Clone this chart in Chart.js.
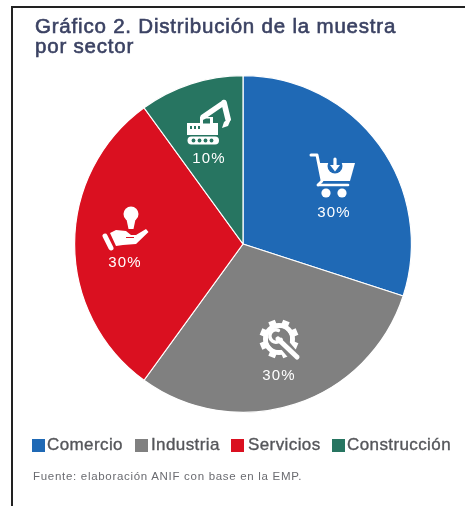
<!DOCTYPE html>
<html><head><meta charset="utf-8">
<style>
html,body{margin:0;padding:0;background:#fff;width:465px;height:506px;overflow:hidden}
#wrap{position:relative;width:465px;height:506px;filter:blur(.7px)}
#frame{position:absolute;left:11px;top:6px;width:470px;height:530px;border:2px solid #222;box-sizing:border-box}
canvas{position:absolute;left:0;top:0}
#title{position:absolute;left:35px;top:16px;font:400 20.5px/20px "Liberation Sans",Arial,sans-serif;color:#3b4263;letter-spacing:.8px;white-space:nowrap;-webkit-text-stroke:.6px #3b4263}
#legend{position:absolute;left:0;top:436px;width:465px;height:18px;font:400 17px/18px "Liberation Sans",Arial,sans-serif;color:#55565a;letter-spacing:.4px}
#legend span{position:absolute;top:0;white-space:nowrap;-webkit-text-stroke:.35px #55565a}
#legend i{position:absolute;top:3px;width:13px;height:13px}
#source{position:absolute;left:33px;top:470px;font:400 11.5px/13px "Liberation Sans",Arial,sans-serif;color:#6a6b70;white-space:nowrap;letter-spacing:.7px}
</style></head><body>
<div id="wrap">
<div id="frame"></div>
<canvas id="c" width="465" height="506"></canvas>
<div id="title">Gráfico 2. Distribución de la muestra<br>por sector</div>
<div id="legend"></div>
<div id="source">Fuente: elaboración ANIF con base en la EMP.</div>
</div>
<script src="https://cdn.jsdelivr.net/npm/chart.js@4"></script>
<script>
const categories = ["Comercio","Industria","Servicios","Construcción"];
const shares = [30,30,30,10];
const sliceColors = ["#1f69b5","#808080","#da1020","#277561"];
const labelOffsets = [[91,-31],[36,132],[-118,19],[-34,-85]];
const iconOffsets = [[67,-91],[16,76],[-140,-39],[-56,-144]];
const legendBoxX = [32,135,231,332];
const legendTextX = [47,151,248,347];

const WHITE="#fff";
function line(c,pts,w){c.lineWidth=w;c.beginPath();pts.forEach((p,i)=>i?c.lineTo(p[0],p[1]):c.moveTo(p[0],p[1]));c.stroke();}
function poly(c,pts){c.beginPath();pts.forEach((p,i)=>i?c.lineTo(p[0],p[1]):c.moveTo(p[0],p[1]));c.closePath();c.fill();}
function disc(c,x,y,r){c.beginPath();c.arc(x,y,r,0,Math.PI*2);c.fill();}
const icons=[
 function cart(c,bg){
  c.lineCap="round";c.lineJoin="round";
  line(c,[[1,2],[7,2],[12,27]],3);
  poly(c,[[9,10],[45,10],[40,28],[12,28]]);
  c.fillStyle=bg;disc(c,25,13,7.5);c.fillRect(19.5,6,11,6);c.fillStyle=WHITE;
  line(c,[[25,6],[25,14]],3.2);
  poly(c,[[20,12],[30,12],[25,18.5]]);
  line(c,[[8,32],[38,32]],2.6);
  line(c,[[8,32],[12,28]],2.6);
  disc(c,16,40,4.6);disc(c,32,40,4.6);
 },
 function gear(c,bg){
  const cx=20,cy=19;
  c.lineCap="butt";
  for(let i=0;i<8;i++){const a=i*Math.PI/4+Math.PI/8;
   line(c,[[cx+Math.cos(a)*12,cy+Math.sin(a)*12],[cx+Math.cos(a)*19.5,cy+Math.sin(a)*19.5]],7);}
  c.lineWidth=5;c.strokeStyle=WHITE;c.beginPath();c.arc(cx,cy,13.5,0,Math.PI*2);c.stroke();
  c.fillStyle=bg;disc(c,cx,cy,11);
  c.strokeStyle=bg;line(c,[[cx+4,cy+4],[35,36]],11);
  c.strokeStyle=WHITE;c.fillStyle=WHITE;
  c.lineCap="round";
  line(c,[[19,19],[38,37]],5);
  c.lineWidth=3.6;c.beginPath();c.arc(17,16,6.2,0.6,Math.PI*1.5+0.4);c.stroke();
  c.lineCap="butt";
 },
 function hand(c,bg){
  c.lineCap="round";c.lineJoin="round";
  disc(c,28,9,7.5);poly(c,[[23,12],[33,12],[30.5,24],[25.5,24]]);
  line(c,[[2,31],[8,43]],5);
  c.fillStyle=WHITE;
  poly(c,[[7,28],[13,25],[23,26],[28,30],[33,30],[43,24],[45.5,27],[33,39],[20,40],[13,41]]);
  c.fillStyle=bg;poly(c,[[31,33],[23,33],[23,32],[31,32]]);
  c.fillStyle=WHITE;
 },
 function digger(c,bg){
  c.lineCap="round";c.lineJoin="round";
  c.lineWidth=8;c.beginPath();c.moveTo(4.5,40.5);c.lineTo(28,40.5);c.stroke();
  c.fillStyle=bg;[6.5,12.5,18.5,24.5].forEach(x=>disc(c,x,40.5,1.9));c.fillStyle=WHITE;
  c.fillRect(0,23,31,12);
  c.fillRect(13,17,13,8);
  c.fillStyle=bg;c.fillRect(16,18.5,7,5);
  c.fillRect(3,26,2,3);c.fillRect(7,26,2,3);c.fillRect(11,26,2,3);c.fillStyle=WHITE;
  line(c,[[16,17],[35,4]],5.2);
  line(c,[[37,2.5],[41,19]],5.6);
  poly(c,[[35,28],[37,22],[42,18],[44,19],[41,26]]);
 }
];
const decor={id:"decor",afterDatasetsDraw(ch){
  const c=ch.ctx,arcs=ch.getDatasetMeta(0).data;
  arcs.forEach((a,i)=>{
    c.save();c.fillStyle=WHITE;c.strokeStyle=WHITE;
    c.translate(a.x+iconOffsets[i][0],a.y+iconOffsets[i][1]);
    icons[i](c,sliceColors[i]);
    c.restore();
    c.save();c.fillStyle=WHITE;c.font='15px "Liberation Sans",Arial,sans-serif';
    c.letterSpacing="1.2px";
    c.textAlign="center";c.textBaseline="middle";
    c.fillText(shares[i]+"%",a.x+labelOffsets[i][0],a.y+labelOffsets[i][1]);
    c.restore();
  });
}};
new Chart(document.getElementById("c"),{
  type:"pie",
  data:{labels:categories,datasets:[{data:shares,backgroundColor:sliceColors,borderColor:"#fff",borderWidth:1.2}]},
  options:{responsive:false,animation:false,
    layout:{padding:{left:74,right:53,top:75,bottom:93}},
    plugins:{legend:{display:false},title:{display:false},tooltip:{enabled:false}}},
  plugins:[decor]
});
const lg=document.getElementById("legend");
categories.forEach((n,i)=>{
  const b=document.createElement("i");b.style.left=legendBoxX[i]+"px";b.style.background=sliceColors[i];lg.appendChild(b);
  const s=document.createElement("span");s.style.left=legendTextX[i]+"px";s.textContent=n;lg.appendChild(s);
});
</script>
</body></html>
